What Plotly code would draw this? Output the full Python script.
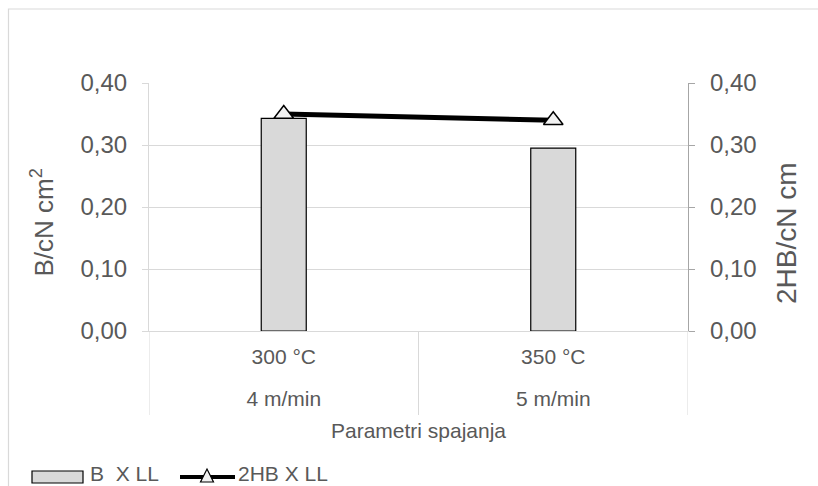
import plotly.graph_objects as go

speeds = ["4 m/min", "5 m/min"]
temps = ["300 °C", "350 °C"]
b_values = [0.343, 0.295]
hb_values = [0.35, 0.34]
y_ticks = [0.0, 0.1, 0.2, 0.3, 0.4]
y_ticklabels = ["0,00", "0,10", "0,20", "0,30", "0,40"]
series_names = ["B  X LL", "2HB X LL"]
y_titles = ["B/cN cm<sup>2</sup>", "2HB/cN cm"]
x_title = "Parametri spajanja"

FONT = "Liberation Sans, Arial, sans-serif"
TXT = "#595959"
GRID = "#d9d9d9"

W, H = 818, 486
L, R, T, B = 149, 130, 83, 155
pw, ph = W - L - R, H - T - B


def px(x):
    return (x - L) / pw


def py(y):
    return (T + ph - y) / ph


ticktext = [f"<span style='font-size:21px'>{t}</span><br><span style='font-size:21px'>{s}</span>"
            for t, s in zip(temps, speeds)]

fig = go.Figure()
fig.add_trace(go.Bar(
    x=temps, y=b_values, name=series_names[0], showlegend=False,
    marker=dict(color="#d9d9d9", line=dict(color="black", width=1.2)),
    width=0.167,
))
fig.add_trace(go.Scatter(
    x=temps, y=hb_values, name=series_names[1], yaxis="y2", showlegend=False,
    mode="lines+markers",
    line=dict(color="black", width=5),
    marker=dict(symbol="triangle-up", size=17, color="#f2f2f2",
                line=dict(color="black", width=1.5)),
))

shapes = [
    dict(type="rect", xref="paper", yref="paper",
         x0=px(8.5), x1=px(W + 20), y0=py(H + 20), y1=py(9),
         line=dict(color=GRID, width=1.2), fillcolor="rgba(0,0,0,0)", layer="below"),
]
for xv in [-0.5, 0.5, 1.5]:
    shapes.append(dict(type="line", xref="x", yref="paper", x0=xv, x1=xv,
                       y0=0, y1=py(415), line=dict(color=GRID, width=1)))
shapes.append(dict(type="rect", xref="paper", yref="paper",
                   x0=px(32), x1=px(83), y0=py(483), y1=py(471),
                   line=dict(color="black", width=1.2), fillcolor="#d9d9d9"))
shapes.append(dict(type="line", xref="paper", yref="paper",
                   x0=px(180), x1=px(235), y0=py(477), y1=py(477),
                   line=dict(color="black", width=4)))
tri = f"M {px(200.5)} {py(482)} L {px(213.5)} {py(482)} L {px(207)} {py(469)} Z"
shapes.append(dict(type="path", xref="paper", yref="paper", path=tri,
                   line=dict(color="black", width=1.2), fillcolor="#f2f2f2"))

annotations = [
    dict(text=series_names[0], xref="paper", yref="paper", x=px(89), y=py(486),
         xanchor="left", yanchor="bottom", showarrow=False, borderpad=0,
         font=dict(size=21, color=TXT)),
    dict(text=series_names[1], xref="paper", yref="paper", x=px(237), y=py(486),
         xanchor="left", yanchor="bottom", showarrow=False, borderpad=0,
         font=dict(size=21, color=TXT)),
    dict(text=y_titles[0], xref="paper", yref="paper", x=px(42.5), y=py(223),
         xanchor="center", yanchor="middle", showarrow=False, textangle=-90,
         font=dict(size=26, color=TXT)),
    dict(text=y_titles[1], xref="paper", yref="paper", x=px(786), y=py(233),
         xanchor="center", yanchor="middle", showarrow=False, textangle=-90,
         font=dict(size=28, color=TXT)),
]

fig.update_layout(
    width=W, height=H,
    margin=dict(l=L, r=R, t=T, b=B, autoexpand=False),
    paper_bgcolor="white", plot_bgcolor="white",
    font=dict(family=FONT, color=TXT, size=21),
    showlegend=False,
    xaxis=dict(
        type="category", range=[-0.5, 1.5],
        tickvals=temps, ticktext=ticktext,
        showline=True, linecolor=GRID, linewidth=1,
        showgrid=False, ticks="",
        tickfont=dict(size=32, color=TXT),
        ticklabelstandoff=-6,
        title=dict(text=x_title, font=dict(size=21, color=TXT), standoff=14),
        automargin=False,
    ),
    yaxis=dict(
        range=[0, 0.4], tickvals=y_ticks, ticktext=y_ticklabels,
        showgrid=True, gridcolor=GRID, gridwidth=1,
        showline=True, linecolor=GRID, linewidth=1,
        ticks="outside", ticklen=6, tickcolor=GRID,
        zeroline=False,
        tickfont=dict(size=24, color=TXT),
        ticklabelstandoff=10,
        automargin=False,
    ),
    yaxis2=dict(
        range=[0, 0.4], tickvals=y_ticks, ticktext=y_ticklabels,
        overlaying="y", side="right",
        showgrid=False, zeroline=False,
        showline=True, linecolor="#a6a6a6", linewidth=1.3,
        ticks="outside", ticklen=6, tickcolor="#a6a6a6",
        tickfont=dict(size=24, color=TXT),
        ticklabelstandoff=10,
        automargin=False,
    ),
    shapes=shapes,
    annotations=annotations,
)

fig.write_html("out.html", config={"displayModeBar": False},
               post_script="document.body.style.margin='0px';")
